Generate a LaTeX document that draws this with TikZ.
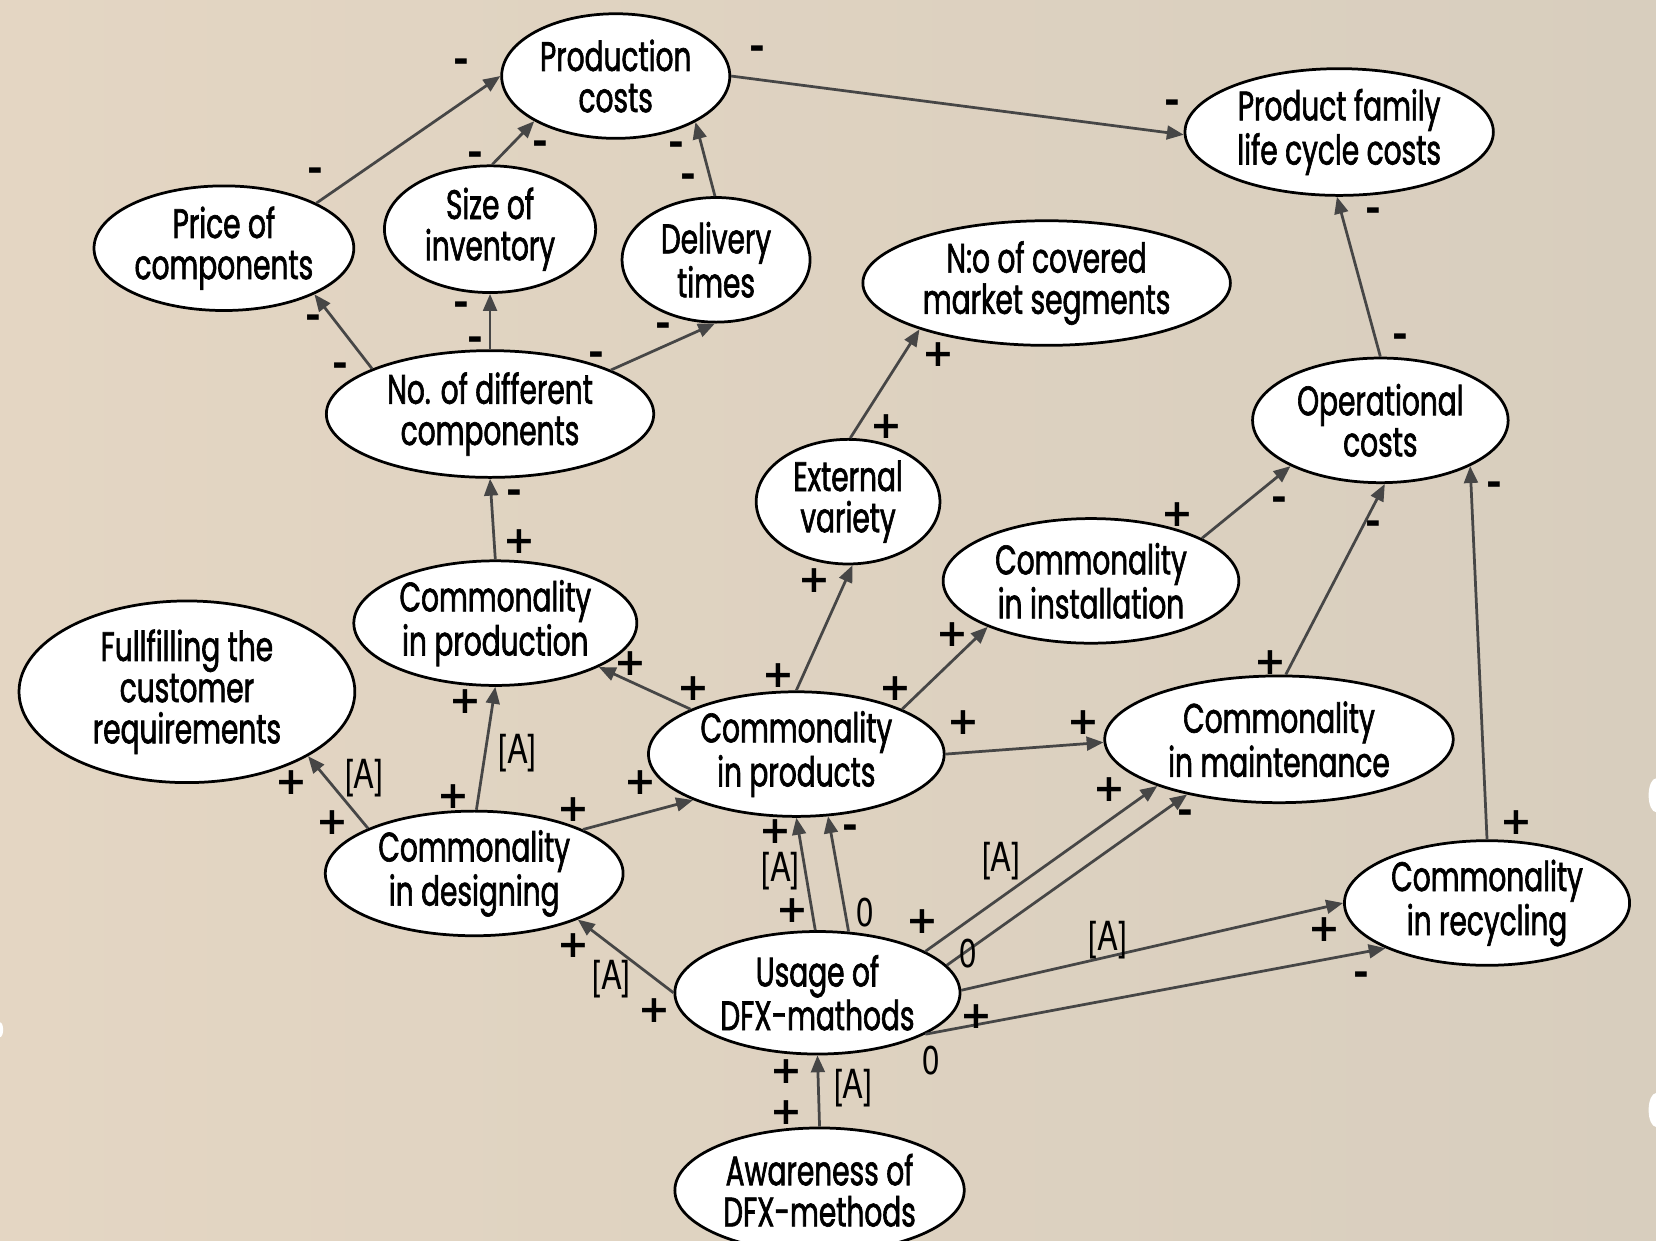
\documentclass[tikz,border=0pt]{standalone}
\usepackage{fontspec}
\setmainfont{Poppins}[FakeStretch=0.68, FakeBold=1.5]
\newfontfamily\lblfont{TeX Gyre Heros}[FakeStretch=0.78]
\newfontfamily\sgnfont{DejaVu Sans}
\usetikzlibrary{shapes.geometric,arrows.meta}
\definecolor{edgegray}{RGB}{70,70,70}
\definecolor{bgL}{RGB}{228,214,195}
\definecolor{bgR}{RGB}{216,206,190}
\tikzset{
  ell/.style={ellipse, draw=black, line width=1.3pt, fill=white, inner sep=0pt, align=center,
    font=\fontsize{19.5}{19.5}\selectfont},
  eg/.style={draw=edgegray, line width=1.3pt, -{Triangle[length=8pt,width=6.5pt]}},
  sgn/.style={font=\sgnfont\bfseries\fontsize{18}{18}\selectfont, inner sep=0pt},
  lbl/.style={font=\lblfont\fontsize{19}{19}\selectfont, inner sep=0pt},
  blob/.style={fill=white, draw=none}
}
\begin{document}
\begin{tikzpicture}[x=0.5pt,y=-0.5pt]
\fill[left color=bgL, right color=bgR] (0,0) rectangle (1568,1175);
\useasboundingbox (0,0) rectangle (1568,1175);
\fill[blob] (1568,753) ellipse [x radius=7, y radius=16];
\fill[blob] (1568,1051) ellipse [x radius=7, y radius=16];
\fill[blob] (0,975) ellipse [x radius=3, y radius=7];

% nodes
\node[ell, minimum width=108pt, minimum height=59pt] (PC) at (583,72) {Production\\costs};
\node[ell, minimum width=146pt, minimum height=60pt] (PF) at (1268,125) {Product family\\life cycle costs};
\node[ell, minimum width=123pt, minimum height=59pt] (PR) at (212,235) {Price of\\components};
\node[ell, minimum width=100pt, minimum height=60pt] (SI) at (464,217) {Size of\\inventory};
\node[ell, minimum width=89pt, minimum height=59pt] (DT) at (678,246) {Delivery\\times};
\node[ell, minimum width=174pt, minimum height=59pt] (NM) at (991,268) {N:o of covered\\market segments};
\node[ell, minimum width=155pt, minimum height=60pt] (ND) at (464,392) {No. of different\\components};
\node[ell, minimum width=121pt, minimum height=59pt] (OC) at (1307,398) {Operational\\costs};
\node[ell, minimum width=87pt, minimum height=59pt] (EV) at (803,475) {External\\variety};
\node[ell, minimum width=140pt, minimum height=59pt] (CI) at (1033,550) {Commonality\\in installation};
\node[ell, minimum width=134pt, minimum height=59pt] (CP) at (469,590) {Commonality\\in production};
\node[ell, minimum width=159pt, minimum height=86pt] (FC) at (177,655) {Fullfilling the\\customer\\requirements};
\node[ell, minimum width=140pt, minimum height=59pt] (CPr) at (754,714) {Commonality\\in products};
\node[ell, minimum width=165pt, minimum height=60pt] (CM) at (1211,700) {Commonality\\in maintenance};
\node[ell, minimum width=141pt, minimum height=59pt] (CD) at (449,827) {Commonality\\in designing};
\node[ell, minimum width=135pt, minimum height=59pt] (CR) at (1408,855) {Commonality\\in recycling};
\node[ell, minimum width=135pt, minimum height=58pt] (US) at (774,940) {Usage of\\DFX-mathods};
\node[ell, minimum width=137pt, minimum height=59pt] (AW) at (776,1127) {Awareness of\\DFX-methods};

% connectors
\draw[eg] (PR.26) -- (PC.180);
\draw[eg] (SI.88) -- (PC.209);
\draw[eg] (DT.91) -- (PC.330);
\draw[eg] (PC.0) -- (PF.181);
\draw[eg] (ND.159) -- (PR.333);
\draw[eg] (ND.90) -- (SI.270);
\draw[eg] (ND.20) -- (DT.269);
\draw[eg] (CP.90) -- (ND.270);
\draw[eg] (OC.90) -- (PF.268);
\draw[eg] (EV.88) -- (NM.200);
\draw[eg] (CI.21) -- (OC.207);
\draw[eg] (CM.84) -- (OC.274);
\draw[eg] (CR.90) -- (OC.333);
\draw[eg] (CPr.157) -- (CP.337);
\draw[eg] (CPr.90) -- (EV.274);
\draw[eg] (CPr.23) -- (CI.204);
\draw[eg] (CPr.0) -- (CM.181);
\draw[eg] (CD.157) -- (FC.332);
\draw[eg] (CD.88) -- (CP.270);
\draw[eg] (CD.22) -- (CPr.204);
\draw[eg] (US.180) -- (CD.336);
\draw[eg] (US.92) -- (CPr.270);
\draw[eg] (US.63) -- (CPr.297);
\draw[eg] (US.21) -- (CM.201);
\draw[eg] (US.12) -- (CM.211);
\draw[eg] (US.1) -- (CR.180);
\draw[eg] (US.339) -- (CR.204);
\draw[eg] (AW.90) -- (US.270);

% signs
\foreach \x/\y/\t [count=\i] in {
 437/62/-, 717/50/-, 299/165/-, 450/150/-, 512/140/-, 640/141/-, 652/171/-,
 1110/101/-, 1300/203/-, 297/305/-, 322/350/-, 437/292/-, 450/325/-, 565/340/-,
 628/312/-, 487/470/-, 492/513/+, 1326/323/-, 839/404/+, 889/336/+, 1115/487/+,
 1211/477/-, 1300/500/-, 1203/627/+, 1415/463/-, 1436/779/+, 657/652/+, 597/628/+,
 737/640/+, 771/550/+, 848/652/+, 902/601/+, 912/684/+, 1026/684/+, 315/779/+,
 276/741/+, 429/754/+, 441/664/+, 543/767/+, 606/741/+, 620/957/+, 543/895/+,
 750/862/+, 734/787/+, 805/787/-, 873/873/+, 1050/748/+, 1122/773/-, 1254/880/+,
 925/963/+, 1289/927/-, 745/1015/+, 745/1053/+}
  \node[sgn] (s\i) at (\x,\y) {\t};

% labels
\foreach \x/\y/\t [count=\i] in {
 345/737/[A], 490/713/[A], 579/927/[A], 739/825/[A], 819/864/0, 948/815/[A],
 917/903/0, 1049/890/[A], 882/1004/0, 808/1030/[A]}
  \node[lbl] (l\i) at (\x,\y) {\t};
\end{tikzpicture}
\end{document}
